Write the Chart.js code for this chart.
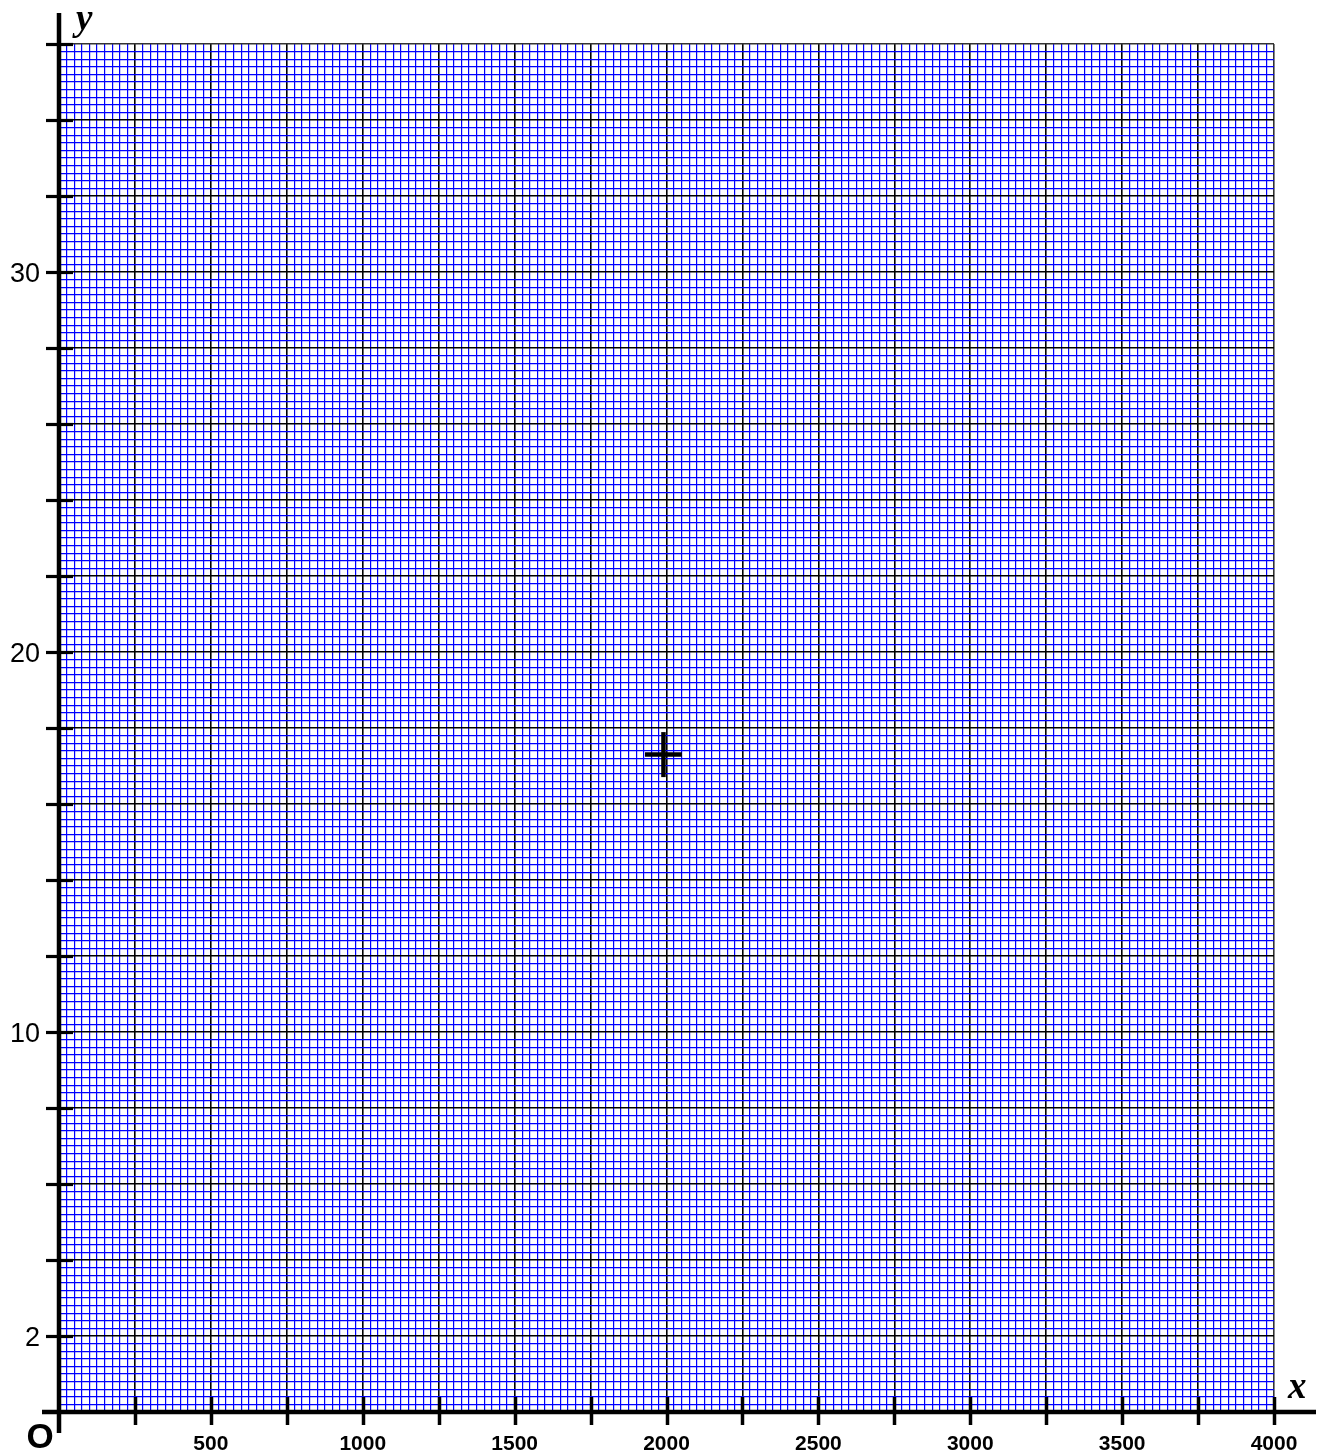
<!DOCTYPE html>
<html>
<head>
<meta charset="utf-8">
<script src="https://cdn.jsdelivr.net/npm/chart.js@4.4.1/dist/chart.umd.min.js"></script>
<style>
  html, body { margin: 0; padding: 0; background: #fff; }
  #wrap { width: 1320px; height: 1455px; position: relative; }
</style>
</head>
<body>
<div id="wrap"><canvas id="paper"></canvas></div>
<script>
// axis ranges and labelled ticks
const xRange = [0, 4000];
const yRange = [0, 36];
const xLabels = [500, 1000, 1500, 2000, 2500, 3000, 3500, 4000];
const yLabels = [2, 10, 20, 30];
// grid spacing (minor / major)
const xMinor = 25, xMajor = 250;
const yMinor = 0.2, yMajor = 2;
// the single marked point
const markX = [1990];
const markY = [17.3];

const BLUE = '#0000ff';
const onStep = (v, step) => Math.abs(v / step - Math.round(v / step)) < 1e-6;

function gridColor(step, max) {
  return ctx => {
    const v = ctx.tick.value;
    if (Math.abs(v - max) < 1e-6) return '#333';
    return onStep(v, step) ? '#000' : BLUE;
  };
}

const axesPlugin = {
  id: 'paperAxes',
  afterDraw(chart) {
    const { ctx, scales: { x, y } } = chart;
    const x0 = x.getPixelForValue(0);
    const y0 = y.getPixelForValue(0);
    const seg = (a, b, c, d) => { ctx.beginPath(); ctx.moveTo(a, b); ctx.lineTo(c, d); ctx.stroke(); };
    ctx.save();
    ctx.strokeStyle = '#000';
    ctx.lineCap = 'butt';

    // tick marks across the axes
    ctx.lineWidth = 3.2;
    for (let v = yMajor; v <= yRange[1] + 1e-6; v += yMajor) {
      const py = Math.round(y.getPixelForValue(v)) + 0.5;
      seg(x0 - 13, py, x0 + 14, py);
    }
    ctx.lineWidth = 3.5;
    for (let v = xMajor; v <= xRange[1]; v += xMajor) {
      const px = Math.round(x.getPixelForValue(v)) + 0.5;
      seg(px, y0 - 15, px, y0 + 13);
    }

    // thick axes
    ctx.lineWidth = 4.5;
    seg(x0, chart.chartArea.top - 31, x0, y0 + 21);
    seg(x0 - 17, y0, x.right + 42, y0);

    // axis names and origin
    ctx.fillStyle = '#000';
    ctx.textAlign = 'left';
    ctx.textBaseline = 'alphabetic';
    ctx.font = 'italic bold 37px "Liberation Serif", serif';
    ctx.fillText('y', x0 + 17, chart.chartArea.top - 14);
    ctx.fillText('x', x.right + 14, y0 - 14);
    ctx.textAlign = 'center';
    ctx.font = 'bold 35px "Liberation Sans", Arial, sans-serif';
    ctx.fillText('O', x0 - 19, y0 + 36);
    ctx.restore();
  }
};

new Chart(document.getElementById('paper'), {
  type: 'scatter',
  data: {
    datasets: [
      {
        data: markX.map((v, i) => ({ x: v, y: markY[i] })),
        pointStyle: 'line',
        radius: 18.5,
        borderColor: '#000',
        borderWidth: 4.5
      },
      {
        data: markX.map((v, i) => ({ x: v, y: markY[i] })),
        pointStyle: 'line',
        rotation: 90,
        radius: 22.5,
        borderColor: '#000',
        borderWidth: 4.5
      }
    ]
  },
  options: {
    responsive: true,
    maintainAspectRatio: false,
    animation: false,
    events: [],
    layout: { padding: { top: 44, right: 46, left: 0, bottom: 0 } },
    plugins: { legend: { display: false }, tooltip: { enabled: false } },
    scales: {
      x: {
        type: 'linear',
        min: xRange[0],
        max: xRange[1],
        afterFit: s => { s.height = 43; },
        border: { display: false },
        grid: {
          drawTicks: false,
          color: gridColor(xMajor, xRange[1]),
          lineWidth: ctx => onStep(ctx.tick.value, xMajor) ? 1.6 : 1.2
        },
        ticks: {
          stepSize: xMinor,
          autoSkip: false,
          maxRotation: 0,
          padding: 20,
          color: '#000',
          font: { family: '"Liberation Sans Narrow", "Liberation Sans", Arial, sans-serif', size: 21, weight: 'bold' },
          callback: v => xLabels.includes(v) ? String(v) : ''
        }
      },
      y: {
        type: 'linear',
        min: yRange[0],
        max: yRange[1],
        afterFit: s => { s.width = 59; },
        border: { display: false },
        grid: {
          drawTicks: false,
          color: gridColor(yMajor, yRange[1]),
          lineWidth: ctx => onStep(ctx.tick.value, yMajor) ? 1.4 : 1.2
        },
        ticks: {
          stepSize: yMinor,
          autoSkip: false,
          padding: 19,
          labelOffset: 3,
          color: '#000',
          font: { family: '"Liberation Sans", Arial, sans-serif', size: 27 },
          callback: v => yLabels.some(l => Math.abs(l - v) < 1e-6) ? String(Math.round(v)) : ''
        }
      }
    }
  },
  plugins: [axesPlugin]
});
</script>
</body>
</html>
